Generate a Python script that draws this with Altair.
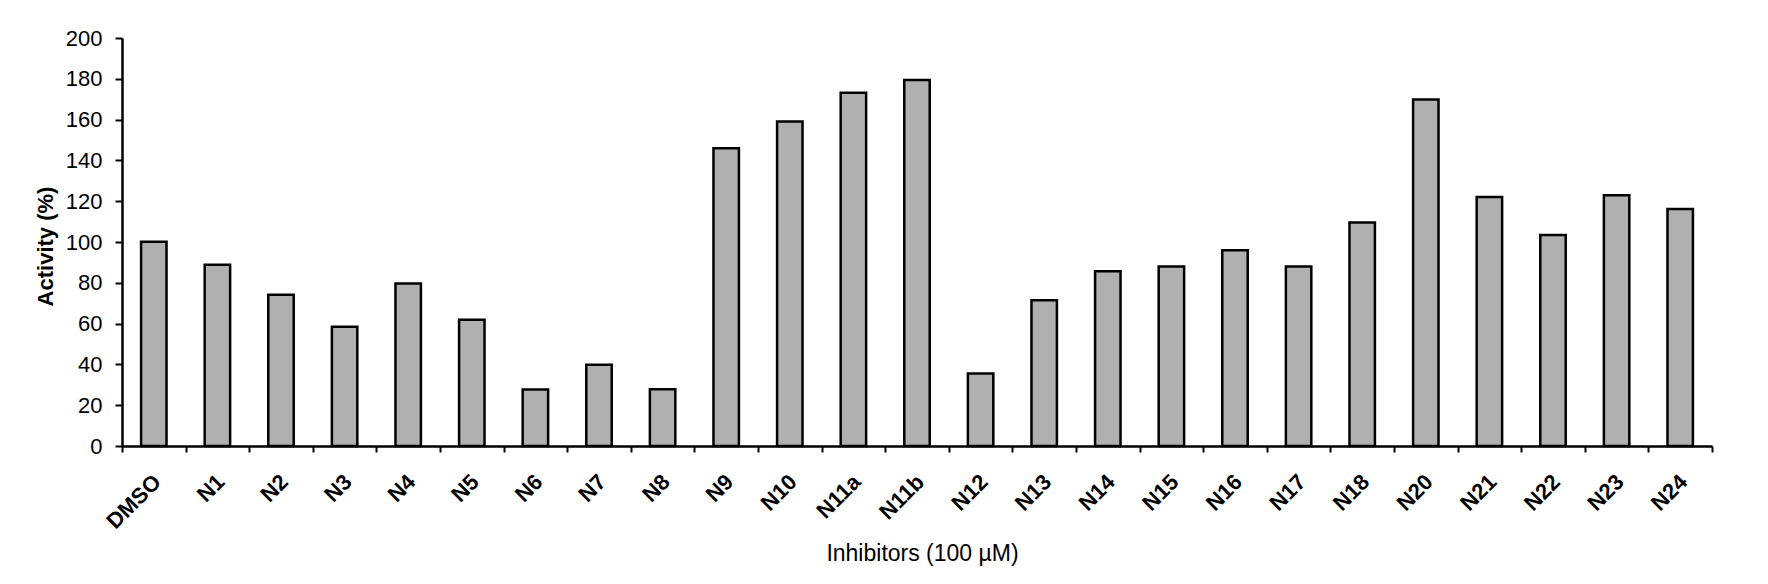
import altair as alt
import pandas as pd

categories = ["DMSO", "N1", "N2", "N3", "N4", "N5", "N6", "N7", "N8", "N9", "N10",
              "N11a", "N11b", "N12", "N13", "N14", "N15", "N16", "N17", "N18",
              "N20", "N21", "N22", "N23", "N24"]
activity = [100.1, 88.8, 74.1, 58.4, 79.6, 61.9, 27.7, 39.8, 27.8, 146.0, 159.1,
            173.2, 179.4, 35.5, 71.5, 85.7, 88.0, 95.9, 88.0, 109.6,
            169.9, 122.0, 103.4, 122.9, 116.2]
y_ticks = [0, 20, 40, 60, 80, 100, 120, 140, 160, 180, 200]

df = pd.DataFrame({"Inhibitor": categories, "Activity": activity})

FONT = "Liberation Sans"

chart = alt.Chart(df).mark_bar(
    width=alt.RelativeBandSize(0.4),
    fill="#b0b0b0",
    stroke="black",
    strokeWidth=2.5,
).encode(
    x=alt.X(
        "Inhibitor:N",
        sort=categories,
        scale=alt.Scale(paddingInner=0, paddingOuter=0),
        axis=alt.Axis(
            title="Inhibitors (100 µM)",
            tickBand="extent",
            tickSize=6,
            tickWidth=2,
            tickColor="black",
            domainColor="black",
            domainWidth=2.5,
            labelAngle=-45,
            labelAlign="right",
            labelBaseline="middle",
            labelPadding=26,
            labelOffset=3,
            labelFont=FONT,
            labelFontSize=22,
            labelFontWeight="bold",
            labelColor="black",
            labelOverlap=False,
            titleFont=FONT,
            titleFontSize=23,
            titleFontWeight="normal",
            titleColor="black",
            titleX=800,
            titleY=107,
            titleAlign="center",
            titleBaseline="middle",
        ),
    ),
    y=alt.Y(
        "Activity:Q",
        scale=alt.Scale(domain=[0, 200]),
        axis=alt.Axis(
            title="Activity (%)",
            values=y_ticks,
            grid=False,
            tickSize=7,
            tickWidth=2,
            tickColor="black",
            domainColor="black",
            domainWidth=2.5,
            labelPadding=13,
            labelFont=FONT,
            labelFontSize=22,
            labelColor="black",
            titleFont=FONT,
            titleFontSize=22,
            titleFontWeight="bold",
            titleColor="black",
            titleX=-77,
            titleY=208,
            titleAlign="center",
            titleBaseline="middle",
        ),
    ),
).properties(
    width=1590,
    height=408,
    padding={"left": 114, "top": 30, "right": 40, "bottom": 130},
    autosize=alt.AutoSizeParams(type="none"),
    background="white",
).configure_view(stroke=None)

chart.save("out.html", embed_options={"renderer": "svg", "actions": False})
